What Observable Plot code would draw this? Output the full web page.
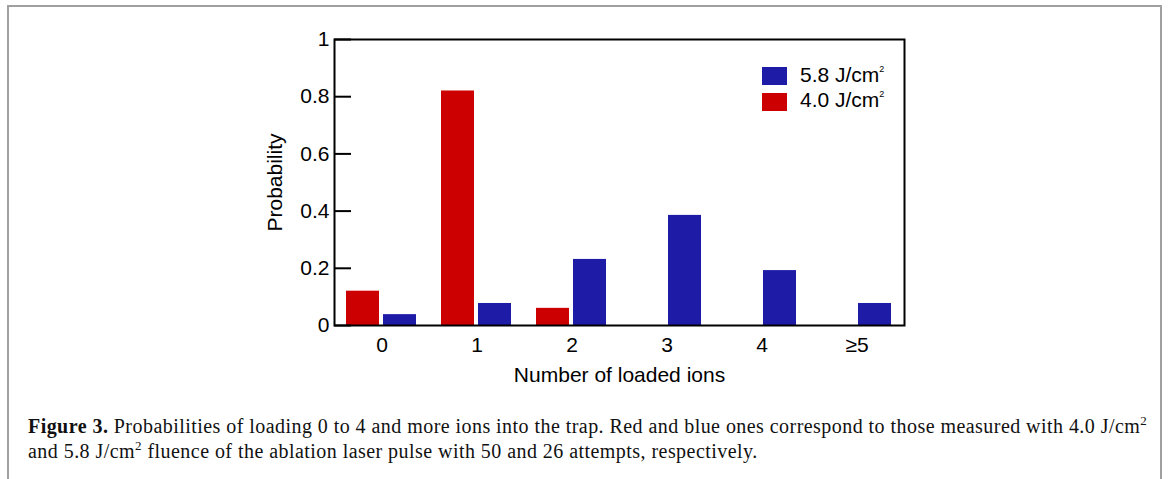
<!DOCTYPE html>
<html>
<head>
<meta charset="utf-8">
<script src="https://cdn.jsdelivr.net/npm/d3@7"></script>
<script src="https://cdn.jsdelivr.net/npm/@observablehq/plot@0.6"></script>
<style>
  html, body { margin: 0; padding: 0; background: #fff; }
  body { width: 1170px; height: 479px; position: relative; overflow: hidden; }
  #box { position: absolute; left: 7px; top: 5px; width: 1155px; height: 520px; border: 2px solid #a0a0a0; box-sizing: border-box; }
  #chart { position: absolute; left: 0; top: 0; }
  .leg { position: absolute; font-family: "Liberation Sans", Arial, sans-serif; font-size: 21px; color: #000; }
  .sw { position: absolute; width: 25px; height: 18px; }
  .leg sup { font-size: 9px; vertical-align: 0; position: relative; top: -10px; }
  #cap { position: absolute; left: 28px; top: 415px; font-family: "Liberation Serif", "Times New Roman", serif; font-size: 20px; letter-spacing: 0.45px; line-height: 23px; color: #111; white-space: nowrap; }
  #cap sup { font-size: 13px; vertical-align: 0; position: relative; top: -8px; }
</style>
</head>
<body>
<div id="box"></div>
<div id="chart"></div>
<div class="sw" style="left:762px;top:67px;background:#1e1ba6"></div>
<div class="leg" style="left:800px;top:63px">5.8 J/cm<sup>2</sup></div>
<div class="sw" style="left:762px;top:93px;background:#cc0000"></div>
<div class="leg" style="left:800px;top:88px">4.0 J/cm<sup>2</sup></div>
<div id="cap"><b>Figure 3.</b> Probabilities of loading 0 to 4 and more ions into the trap. Red and blue ones correspond to those measured with 4.0 J/cm<sup>2</sup><br>and 5.8 J/cm<sup>2</sup> fluence of the ablation laser pulse with 50 and 26 attempts, respectively.</div>
<script>
const categories = ["0", "1", "2", "3", "4", "≥5"];
const series = ["4.0 J/cm²", "5.8 J/cm²"];
const red = [0.12, 0.82, 0.06, 0, 0, 0];
const blue = [0.038, 0.077, 0.231, 0.385, 0.192, 0.077];
const yTicks = [0, 0.2, 0.4, 0.6, 0.8, 1];

const table = [];
categories.forEach((c, i) => {
  table.push({cat: c, series: series[0], value: red[i]});
  table.push({cat: c, series: series[1], value: blue[i]});
});

const chart = Plot.plot({
  width: 1170,
  height: 400,
  marginLeft: 334,
  marginRight: 266,
  marginTop: 39,
  marginBottom: 75,
  style: {fontFamily: "Liberation Sans, Arial, sans-serif", fontSize: "21px", color: "#000", background: "transparent"},
  fx: {domain: categories, padding: 0},
  x: {domain: series, paddingInner: 0.105, paddingOuter: 0.303, axis: null},
  y: {domain: [0, 1]},
  color: {domain: series, range: ["#cc0000", "#1e1ba6"]},
  marks: [
    Plot.barY(table, {fx: "cat", x: "series", y: "value", fill: "series"}),
    Plot.frame({facet: "super", stroke: "#000", strokeWidth: 2}),
    Plot.axisY({ticks: yTicks, tickSize: 17, dx: 17, strokeWidth: 2, fill: "none", label: null}),
    Plot.axisY({ticks: yTicks, tickSize: 0, tickPadding: 5, fontSize: 21, tickFormat: d => `${d}`,
      label: "Probability", labelAnchor: "center", labelArrow: "none", labelOffset: 67}),
    Plot.axisFx({anchor: "bottom", tickSize: 0, tickPadding: 12, fontSize: 21,
      label: "Number of loaded ions", labelAnchor: "center", labelArrow: "none", labelOffset: 56})
  ]
});
document.getElementById("chart").appendChild(chart);
</script>
</body>
</html>
